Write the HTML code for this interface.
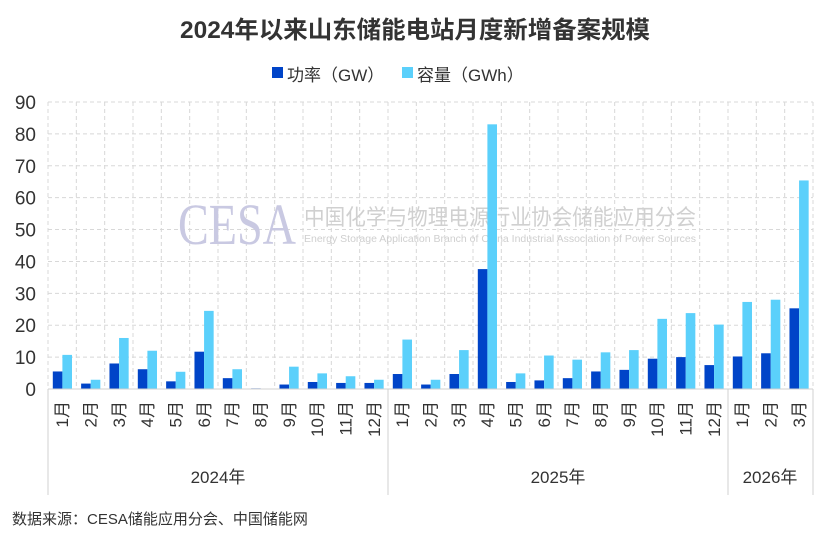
<!DOCTYPE html>
<html><head><meta charset="utf-8"><style>
html,body{margin:0;padding:0;background:#fff;}
svg{display:block;font-family:"Liberation Sans","Noto Sans CJK SC",sans-serif;}
</style></head><body>
<svg width="830" height="541" viewBox="0 0 830 541" xmlns="http://www.w3.org/2000/svg">
<text x="415" y="38" text-anchor="middle" font-size="24" font-weight="bold" fill="#333" textLength="470" lengthAdjust="spacingAndGlyphs">2024年以来山东储能电站月度新增备案规模</text>
<rect x="272" y="67" width="11" height="11" fill="#0044c8"/>
<text x="287" y="81" font-size="17" fill="#333">功率（GW）</text>
<rect x="402" y="67" width="11" height="11" fill="#5bd0fb"/>
<text x="417" y="81" font-size="17" fill="#333">容量（GWh）</text>
<g id="grid"></g>
<g font-size="19" fill="#333" text-anchor="end" id="yl"></g>
<text x="178" y="244" font-size="58" font-family="Liberation Serif,serif" fill="#c9c9e2" textLength="118" lengthAdjust="spacingAndGlyphs">CESA</text>
<text x="304" y="225" font-size="22" fill="#d0d0d0" textLength="392" lengthAdjust="spacingAndGlyphs">中国化学与物理电源行业协会储能应用分会</text>
<text x="304" y="242" font-size="10" fill="#cfcfcf" textLength="392" lengthAdjust="spacingAndGlyphs">Energy Storage Application Branch of China Industrial Association of Power Sources</text>
<g id="bars"></g>
<g id="xl" font-size="17" fill="#333"></g>
<line x1="48" y1="389" x2="813" y2="389" stroke="#d0d0d0" stroke-width="1"/>
<g stroke="#d0d0d0" stroke-width="1">
<line x1="48" y1="389" x2="48" y2="495"/><line x1="388" y1="389" x2="388" y2="495"/><line x1="728" y1="389" x2="728" y2="495"/><line x1="813" y1="389" x2="813" y2="495"/>
</g>
<g font-size="17" fill="#333" text-anchor="middle">
<text x="218" y="483">2024年</text><text x="558" y="483">2025年</text><text x="770" y="483">2026年</text>
</g>
<text x="12" y="524" font-size="15" fill="#333">数据来源：CESA储能应用分会、中国储能网</text>
<script>
var ns="http://www.w3.org/2000/svg";
function el(t,a,p,txt){var e=document.createElementNS(ns,t);for(var k in a)e.setAttribute(k,a[k]);if(txt)e.textContent=txt;document.getElementById(p).appendChild(e);}
var x0=48,w=765/27,y0=389,s=287/90;
for(var i=0;i<=9;i++){var y=y0-i*10*s;if(i>0)el('line',{x1:48,x2:813,y1:y,y2:y,stroke:'#d8d8d8','stroke-dasharray':'4,3'},'grid');el('text',{x:36,y:y+7},'yl',String(i*10));}
for(var j=0;j<=27;j++){var x=x0+j*w;el('line',{x1:x,x2:x,y1:102,y2:389,stroke:'#d8d8d8','stroke-dasharray':'4,3'},'grid');}
var P=[5.5,1.7,8,6.2,2.4,11.7,3.4,0.2,1.4,2.2,1.9,1.9,4.7,1.4,4.7,37.6,2.2,2.7,3.4,5.5,6,9.5,10,7.5,10.2,11.2,25.3];
var C=[10.7,2.9,16,12,5.4,24.5,6.2,0.1,7,4.9,4,2.9,15.5,2.9,12.2,83,4.9,10.5,9.2,11.5,12.2,22,23.8,20.2,27.3,28,65.4];
for(var k=0;k<27;k++){var bx=x0+k*w+4.8;
el('rect',{x:bx,y:y0-P[k]*s,width:9.6,height:P[k]*s,fill:'#0044c8'},'bars');
el('rect',{x:bx+9.6,y:y0-C[k]*s,width:9.6,height:C[k]*s,fill:'#5bd0fb'},'bars');
var m=(k%12)+1;var cx=x0+k*w+w/2+6;
el('text',{x:0,y:0,'text-anchor':'end',transform:'translate('+cx+',401) rotate(-90)'},'xl',m+'月');}
</script>
</svg>
</body></html>
